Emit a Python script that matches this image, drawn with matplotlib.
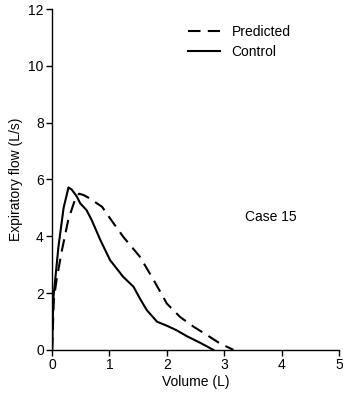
import matplotlib
matplotlib.use("Agg")
import matplotlib.pyplot as plt

# flow-volume curves
control_vol = [0.0, 0.02, 0.05, 0.11, 0.2, 0.285, 0.34, 0.43, 0.49, 0.6, 0.69, 0.84,
               1.01, 1.24, 1.42, 1.53, 1.65, 1.83, 2.0, 2.17, 2.35, 2.58, 2.81]
control_flow = [0.0, 1.8, 2.4, 3.63, 5.0, 5.72, 5.65, 5.4, 5.16, 4.92, 4.57, 3.87,
                3.16, 2.57, 2.22, 1.81, 1.4, 0.99, 0.85, 0.69, 0.48, 0.25, 0.0]

pred_vol = [0.0, 0.03, 0.08, 0.17, 0.28, 0.4, 0.47, 0.55, 0.66, 0.78, 0.87, 1.01,
            1.24, 1.53, 1.77, 2.0, 2.23, 2.47, 2.7, 2.93, 3.16]
pred_flow = [0.0, 1.8, 2.5, 3.5, 4.57, 5.3, 5.5, 5.45, 5.33, 5.16, 5.04, 4.63,
             3.98, 3.28, 2.46, 1.63, 1.16, 0.81, 0.52, 0.22, 0.0]

x_ticks = [0, 1, 2, 3, 4, 5]
y_ticks = [0, 2, 4, 6, 8, 10, 12]

plt.rcParams['font.family'] = ['Liberation Sans', 'DejaVu Sans']

fig = plt.figure(figsize=(3.43, 3.98), dpi=100)
ax = fig.add_axes([0.152, 0.121, 0.836, 0.856])

ax.plot(pred_vol, pred_flow, color='black', lw=1.5, dashes=(6, 3.5), label='Predicted')
ax.plot(control_vol, control_flow, color='black', lw=1.5, label='Control')

ax.set_xlim(0, 5)
ax.set_ylim(0, 12)
ax.set_xticks(x_ticks)
ax.set_yticks(y_ticks)
ax.tick_params(direction='out', length=4, width=1, labelsize=10, pad=2)
for s in ['top', 'right']:
    ax.spines[s].set_visible(False)
for s in ['left', 'bottom']:
    ax.spines[s].set_linewidth(1)

ax.set_xlabel('Volume (L)', fontsize=10, labelpad=2)
ax.set_ylabel('Expiratory flow (L/s)', fontsize=10, labelpad=4)

ax.text(3.37, 4.68, 'Case 15', fontsize=10, va='center', ha='left')

ax.legend(loc='upper right', bbox_to_anchor=(0.875, 0.99), frameon=False,
          fontsize=10, handlelength=2.3, handletextpad=0.8, labelspacing=0.4)

fig.savefig('out.png', dpi=100)
